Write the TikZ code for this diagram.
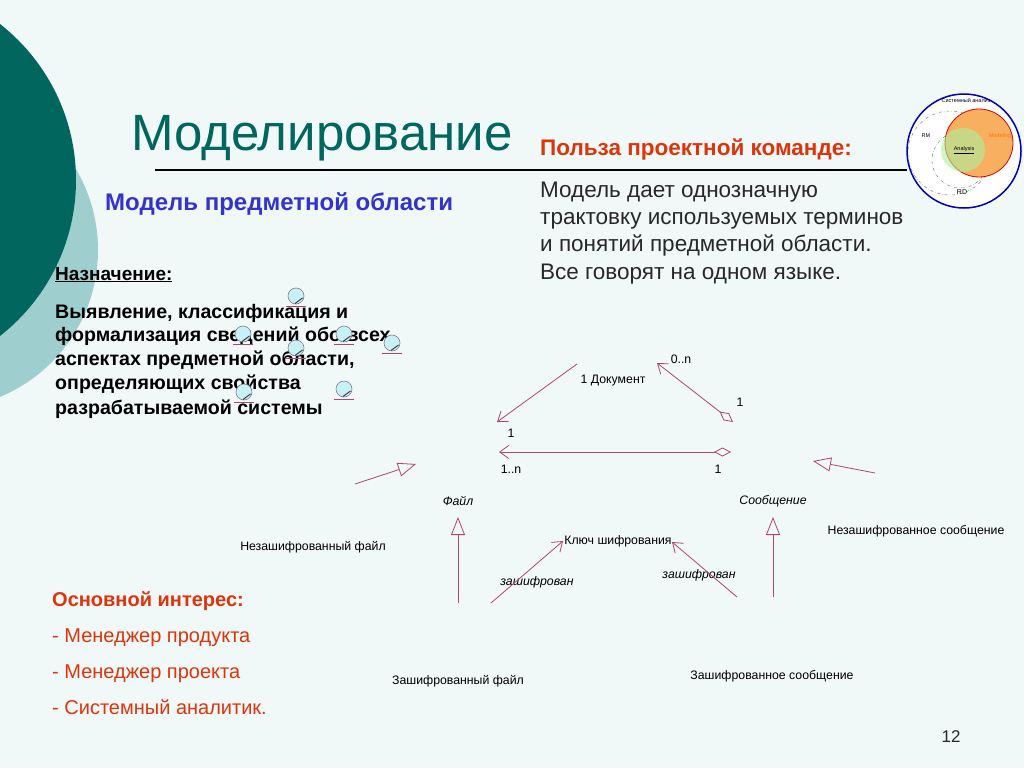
\documentclass[tikz,border=0pt]{standalone}
\usepackage{fontspec}
\setmainfont{Liberation Sans}
\usetikzlibrary{arrows.meta}
\definecolor{bg}{RGB}{240,248,248}
\definecolor{tealA}{RGB}{0,102,94}
\definecolor{tealB}{RGB}{158,206,206}
\definecolor{blueT}{RGB}{51,51,204}
\definecolor{redT}{RGB}{222,52,12}
\definecolor{umlc}{RGB}{176,70,110}
\definecolor{bodyT}{RGB}{40,40,40}
\definecolor{lolfill}{RGB}{200,240,248}
\definecolor{orangeM}{RGB}{248,176,96}
\definecolor{greenA}{RGB}{170,240,160}
\begin{document}
\begin{tikzpicture}[x=1pt,y=-1pt,
  txt/.style={anchor=base west, inner sep=0pt},
  lbl/.style={inner sep=0pt, font=\fontsize{12.3}{14}\selectfont, text=black},
  ilbl/.style={inner sep=0pt, font=\fontsize{12.3}{14}\selectfont\itshape, text=black},
  tiny/.style={inner sep=0pt, font=\fontsize{5.5}{6}\selectfont},
  uml/.style={draw=umlc, line width=0.8pt},
  barb/.style={-{Straight Barb[length=9pt,width=13pt]}},
  gen/.style={-{Triangle[open,length=18pt,width=14pt,fill=bg]}},
  agg/.style={{Diamond[open,length=17pt,width=9pt,fill=bg]}-{Straight Barb[length=9pt,width=13pt]}},
  lolli/.pic={
    \draw[umlc, line width=0.6pt] (-10,10) -- (10,10);
    \draw[gray, line width=0.6pt, fill=lolfill] (0,0) circle (8pt);
    \draw[black!75, line width=1pt] (-1,7.5) -- (6.5,2);
  }]
\fill[bg] (0,0) rectangle (1024,768);
\useasboundingbox (0,0) rectangle (1024,768);
% background circles
\fill[tealB] (-61,250) circle (159pt);
\fill[tealA] (-122,180) circle (198pt);

% title
\node[txt, font=\fontsize{51}{54}\selectfont, text=tealA] (title) at (131,150) {Моделирование};
\coordinate (lineL) at (155,170);
\coordinate (lineR) at (907,170);
\draw[line width=1.2pt, black] (lineL) -- (lineR);

% right-top small diagram
\draw[blue!75!black, line width=1.5pt, fill=white] (964,151) circle (57pt);
\draw[gray, dash dot, line width=0.5pt] (950,153) circle (42pt);
\draw[gray, dash dot, line width=0.5pt] (960,160) circle (28pt);
\draw[red!85!black, line width=0.8pt, fill=orangeM] (979,143) circle (34pt);
\fill[greenA, opacity=0.6] (963,150) circle (22pt);
\node[tiny] (sa) at (966,100) {Системный анализ};
\node[tiny] (rm) at (926,136) {RM};
\node[tiny, text=orange!90!red] (mod) at (1000,136) {Modeling};
\node[tiny] (an) at (964,150) {\underline{Analysis}};
\node[tiny, font=\fontsize{7}{8}\selectfont] (rd) at (962,192) {RD};

% headings
\node[txt, font=\fontsize{24}{28}\selectfont\bfseries, text=blueT] (sub) at (105,210) {Модель предметной области};
\node[txt, font=\fontsize{22.5}{27}\selectfont\bfseries, text=redT] (pol) at (540,155) {Польза проектной команде:};
\node[txt, font=\fontsize{22.5}{27}\selectfont, text=bodyT] (r1) at (540,197) {Модель дает однозначную};
\node[txt, font=\fontsize{22.5}{27}\selectfont, text=bodyT] (r2) at (540,224) {трактовку используемых терминов};
\node[txt, font=\fontsize{22.5}{27}\selectfont, text=bodyT] (r3) at (540,251) {и понятий предметной области.};
\node[txt, font=\fontsize{22.5}{27}\selectfont, text=bodyT] (r4) at (540,279) {Все говорят на одном языке.};

\node[txt, font=\fontsize{19}{24}\selectfont\bfseries, text=black] (naz) at (55,280) {\underline{Назначение:}};
\node[txt, font=\fontsize{19.6}{24}\selectfont\bfseries, text=black] (l1) at (55,318) {Выявление, классификация и};
\node[txt, font=\fontsize{19.6}{24}\selectfont\bfseries, text=black] (l2) at (55,341) {формализация сведений обо всех};
\node[txt, font=\fontsize{19.6}{24}\selectfont\bfseries, text=black] (l3) at (55,365) {аспектах предметной области,};
\node[txt, font=\fontsize{19.6}{24}\selectfont\bfseries, text=black] (l4) at (55,389) {определяющих свойства};
\node[txt, font=\fontsize{19.6}{24}\selectfont\bfseries, text=black] (l5) at (55,414) {разрабатываемой системы};

% lollipop icons
\pic at (296,296) {lolli};
\pic at (243,334) {lolli};
\pic at (344,334) {lolli};
\pic at (392,343) {lolli};
\pic at (296,348) {lolli};
\pic at (244,392) {lolli};
\pic at (344,389) {lolli};

\node[txt, font=\fontsize{20}{24}\selectfont\bfseries, text=redT] (osn) at (52,606) {Основной интерес:};
\node[txt, font=\fontsize{20}{24}\selectfont, text=redT] (m1) at (52,642) {- Менеджер продукта};
\node[txt, font=\fontsize{20}{24}\selectfont, text=redT] (m2) at (52,678) {- Менеджер проекта};
\node[txt, font=\fontsize{20}{24}\selectfont, text=redT] (m3) at (52,714) {- Системный аналитик.};

\node[font=\fontsize{17}{20}\selectfont, text=bodyT, inner sep=0] (pg) at (951,737) {12};

% UML diagram labels
\node[lbl] (doc) at (613,381) {1 Документ};
\node[lbl] (m0n) at (681,359) {0..n};
\node[lbl] (m1a) at (740,402) {1};
\node[lbl] (m1b) at (511,433) {1};
\node[lbl] (m1n) at (511,469) {1..n};
\node[lbl] (m1c) at (718,469) {1};
\node[ilbl] (file) at (458,501) {Файл};
\node[ilbl] (msg) at (773,501) {Сообщение};
\node[lbl] (ufile) at (313,547) {Незашифрованный файл};
\node[lbl] (umsg) at (916,531) {Незашифрованное сообщение};
\node[lbl] (key) at (618,541) {Ключ шифрования};
\node[ilbl] (enc1) at (537,582) {зашифрован};
\node[ilbl] (enc2) at (699,575) {зашифрован};
\node[lbl] (efile) at (458,681) {Зашифрованный файл};
\node[lbl] (emsg) at (772,676) {Зашифрованное сообщение};

% connector end points
\coordinate (a1) at (577,364); \coordinate (a2) at (497,422);
\coordinate (b1) at (733,422); \coordinate (b2) at (657,363);
\coordinate (c1) at (731,452); \coordinate (c2) at (499,452);
\coordinate (d1) at (355,484); \coordinate (d2) at (416,464);
\coordinate (e1) at (875,473); \coordinate (e2) at (813,461);
\coordinate (f1) at (458,603); \coordinate (f2) at (458,517);
\coordinate (g1) at (773,597); \coordinate (g2) at (773,517);
\coordinate (h1) at (491,603); \coordinate (h2) at (563,541);
\coordinate (k1) at (737,597); \coordinate (k2) at (672,542);

\draw[uml, barb] (a1) -- (a2);
\draw[uml, agg] (b1) -- (b2);
\draw[uml, agg] (c1) -- (c2);
\draw[uml, gen] (d1) -- (d2);
\draw[uml, gen] (e1) -- (e2);
\draw[uml, gen] (f1) -- (f2);
\draw[uml, gen] (g1) -- (g2);
\draw[uml, barb] (h1) -- (h2);
\draw[uml, barb] (k1) -- (k2);
\end{tikzpicture}
\end{document}
